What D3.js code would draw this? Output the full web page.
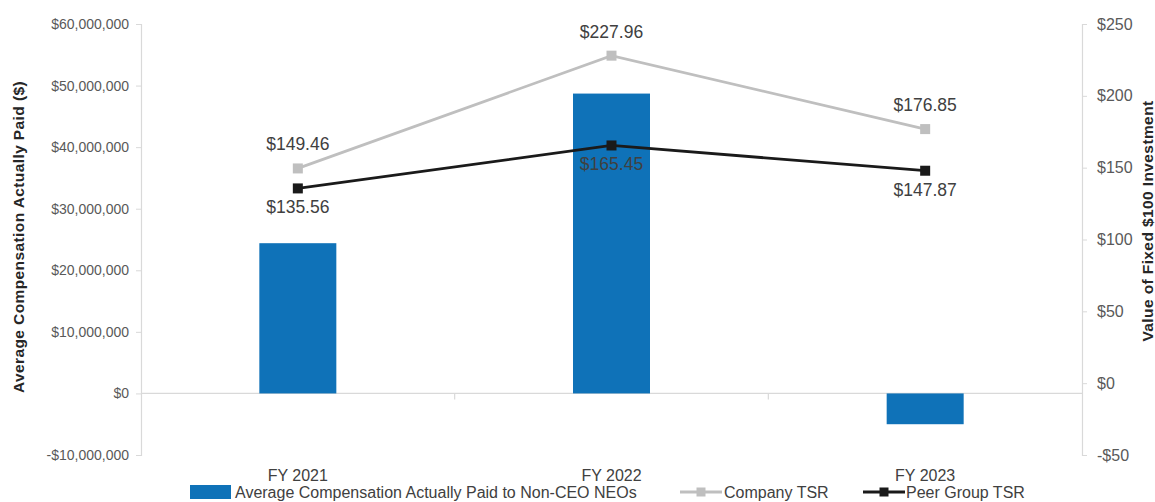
<!DOCTYPE html>
<html><head><meta charset="utf-8">
<script src="https://cdn.jsdelivr.net/npm/d3@7"></script>
<style>body{margin:0;background:#fff;}svg{display:block;font-family:"Liberation Sans",Arial,sans-serif;}</style>
</head><body><svg id="c" width="1155" height="502"></svg>
<script>
const categories = ["FY 2021", "FY 2022", "FY 2023"];
const compensation = [24400000, 48700000, -5000000];
const companyTSR = [149.46, 227.96, 176.85];
const peerTSR = [135.56, 165.45, 147.87];
const leftTicks = [-10000000, 0, 10000000, 20000000, 30000000, 40000000, 50000000, 60000000];
const rightTicks = [-50, 0, 50, 100, 150, 200, 250];
const seriesNames = ["Average Compensation Actually Paid to Non-CEO NEOs", "Company TSR", "Peer Group TSR"];

const svg = d3.select("#c");
const L = 141, R = 1082, T = 24, B = 455;
const x = d3.scaleBand().domain(categories).range([L, R]);
const yL = d3.scaleLinear().domain([-10000000, 60000000]).range([B, T]);
const yR = d3.scaleLinear().domain([-50, 250]).range([B, T]);
const axisCol = "#d9d9d9", textCol = "#595959";
const fmtL = v => (v < 0 ? "-$" : "$") + d3.format(",")(Math.abs(v));
const fmtR = v => (v < 0 ? "-$" : "$") + Math.abs(v);

// left axis
const gL = svg.append("g").attr("transform", `translate(${L},0)`)
  .call(d3.axisLeft(yL).tickValues(leftTicks).tickFormat(fmtL).tickSize(5).tickPadding(7));
// right axis
const gR = svg.append("g").attr("transform", `translate(${R},0)`)
  .call(d3.axisRight(yR).tickValues(rightTicks).tickFormat(fmtR).tickSize(5).tickPadding(10));
[gL, gR].forEach(g => {
  g.select(".domain").attr("stroke", axisCol).attr("stroke-width", 1.2);
  g.selectAll(".tick line").attr("stroke", axisCol);
  g.selectAll(".tick text").attr("fill", textCol).attr("font-family", "Liberation Sans, Arial, sans-serif");
});
gL.selectAll(".tick text").attr("font-size", 14);
gR.selectAll(".tick text").attr("font-size", 16);

// zero line and category separators
svg.append("line").attr("x1", L).attr("x2", R).attr("y1", yL(0)).attr("y2", yL(0))
  .attr("stroke", axisCol).attr("stroke-width", 1.2);
categories.slice(1).forEach(c => {
  svg.append("line").attr("x1", x(c)).attr("x2", x(c)).attr("y1", yL(0)).attr("y2", yL(0) + 6)
    .attr("stroke", axisCol).attr("stroke-width", 1.2);
});

// category labels
svg.append("g").selectAll("text").data(categories).join("text")
  .attr("x", d => x(d) + x.bandwidth() / 2).attr("y", 481)
  .attr("text-anchor", "middle").attr("font-size", 16).attr("fill", "#404040").text(d => d);

// bars
const bw = 77;
svg.append("g").selectAll("rect").data(compensation).join("rect")
  .attr("x", (d, i) => x(categories[i]) + x.bandwidth() / 2 - bw / 2)
  .attr("width", bw)
  .attr("y", d => yL(Math.max(0, d)))
  .attr("height", d => Math.abs(yL(d) - yL(0)))
  .attr("fill", "#0f72b8");

// lines
const cx = i => x(categories[i]) + x.bandwidth() / 2;
function drawLine(vals, col) {
  svg.append("path").datum(vals)
    .attr("d", d3.line().x((d, i) => cx(i)).y(d => yR(d)))
    .attr("fill", "none").attr("stroke", col).attr("stroke-width", 2.8);
  svg.append("g").selectAll("rect").data(vals).join("rect")
    .attr("x", (d, i) => cx(i) - 5).attr("y", d => yR(d) - 5)
    .attr("width", 10).attr("height", 10).attr("fill", col);
}
drawLine(companyTSR, "#bfbfbf");
drawLine(peerTSR, "#1a1a1a");

// data labels
svg.append("g").selectAll("text").data(companyTSR).join("text")
  .attr("x", (d, i) => cx(i)).attr("y", d => yR(d) - 18)
  .attr("text-anchor", "middle").attr("font-size", 17.5).attr("fill", "#404040")
  .text(d => "$" + d.toFixed(2));
svg.append("g").selectAll("text").data(peerTSR).join("text")
  .attr("x", (d, i) => cx(i)).attr("y", d => yR(d) + 25)
  .attr("text-anchor", "middle").attr("font-size", 17.5).attr("fill", "#404040")
  .text(d => "$" + d.toFixed(2));

// axis titles
svg.append("text").attr("transform", "translate(24,237) rotate(-90)")
  .attr("text-anchor", "middle").attr("font-size", 15.5).attr("font-weight", "bold").attr("fill", "#262626")
  .attr("letter-spacing", 0.4)
  .text("Average Compensation Actually Paid ($)");
svg.append("text").attr("transform", "translate(1153,221) rotate(-90)")
  .attr("text-anchor", "middle").attr("font-size", 15.5).attr("font-weight", "bold").attr("fill", "#262626")
  .attr("letter-spacing", 0.4)
  .text("Value of Fixed $100 Investment");

// legend
const ly = 492;
const lg = svg.append("g");
lg.append("rect").attr("x", 190).attr("y", ly - 7).attr("width", 41).attr("height", 14).attr("fill", "#0f72b8");
lg.append("text").attr("x", 235).attr("y", ly + 5.5).attr("font-size", 16).attr("fill", "#404040").text(seriesNames[0]);
[[680, "#bfbfbf", seriesNames[1], 724], [863, "#1a1a1a", seriesNames[2], 906]].forEach(([lx, col, name, tx]) => {
  lg.append("line").attr("x1", lx).attr("x2", lx + 42).attr("y1", ly).attr("y2", ly).attr("stroke", col).attr("stroke-width", 2.8);
  lg.append("rect").attr("x", lx + 16.5).attr("y", ly - 4.5).attr("width", 9).attr("height", 9).attr("fill", col);
  lg.append("text").attr("x", tx).attr("y", ly + 5.5).attr("font-size", 16).attr("fill", "#404040").text(name);
});
</script></body></html>
